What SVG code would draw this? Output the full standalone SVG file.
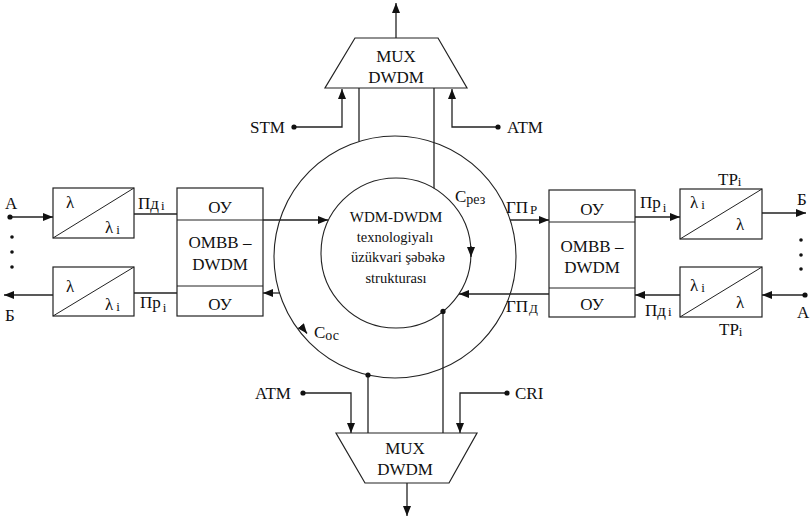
<svg xmlns="http://www.w3.org/2000/svg" width="812" height="518" viewBox="0 0 812 518">
<style>
text{font-family:"Liberation Serif","Times New Roman",serif;fill:#111;}
.t{font-size:17px;}
.c{font-size:17px;text-anchor:middle;}
.m{font-size:14.5px;text-anchor:middle;}
.s{font-size:13px;}
.ln{fill:none;stroke:#222;stroke-width:1.3;}
.cr{fill:none;stroke:#222;stroke-width:1.1;}
.bx{fill:#fff;stroke:#222;stroke-width:1.2;}
.dg{stroke:#222;stroke-width:1;}
.dot{fill:#111;}
</style>
<defs>
<marker id="ar" markerUnits="userSpaceOnUse" markerWidth="10" markerHeight="8" refX="10" refY="4" orient="auto">
<path d="M0,0 L10,4 L0,8 z" fill="#111"/>
</marker>
</defs>

<g id="ring">
<circle cx="395" cy="257" r="121" class="cr"/>
<circle cx="396" cy="253" r="75" class="cr"/>
<text class="m" x="396" y="222" style="font-size:15px">WDM-DWDM</text>
<text class="m" x="395" y="242">texnologiyalı</text>
<text class="m" x="398" y="262">üzükvari şəbəkə</text>
<text class="m" x="396" y="283">strukturası</text>
<text class="t" x="455" y="202">С<tspan style="font-size:14px" dy="2">рез</tspan></text>
<text class="t" x="314" y="338">С<tspan style="font-size:14px" dy="2">ос</tspan></text>
</g>

<g id="mux-top">
<polygon points="355,38 438,38 467,88 325,88" class="bx"/>
<text class="c" x="396" y="62">MUX</text>
<text class="c" x="396" y="83">DWDM</text>
</g>

<g id="mux-bottom">
<polygon points="336,433 477,433 449,483 365,483" class="bx"/>
<text class="c" x="405" y="454">MUX</text>
<text class="c" x="405" y="475">DWDM</text>
</g>

<g id="omvv-left">
<rect x="177" y="188" width="86" height="128" class="bx"/>
<line x1="177" y1="220" x2="263" y2="220" class="dg"/>
<line x1="177" y1="286" x2="263" y2="286" class="dg"/>
<text class="c" x="220" y="213">ОУ</text>
<text class="c" x="220" y="248">OMBB –</text>
<text class="c" x="220" y="270">DWDM</text>
<text class="c" x="220" y="310">ОУ</text>
</g>

<g id="omvv-right">
<rect x="549" y="190" width="86" height="127" class="bx"/>
<line x1="549" y1="222" x2="635" y2="222" class="dg"/>
<line x1="549" y1="288" x2="635" y2="288" class="dg"/>
<text class="c" x="592" y="215">ОУ</text>
<text class="c" x="592" y="252">OMBB –</text>
<text class="c" x="592" y="273">DWDM</text>
<text class="c" x="592" y="310">ОУ</text>
</g>

<g id="tr-left-top">
<rect x="53" y="188" width="81" height="50" class="bx"/>
<line x1="53" y1="238" x2="134" y2="188" class="dg"/>
<text class="t" x="66" y="208">λ</text>
<text class="t" x="105" y="233">λ<tspan class="s" dx="3" dy="1">i</tspan></text>
</g>

<g id="tr-left-bottom">
<rect x="53" y="267" width="81" height="49" class="bx"/>
<line x1="53" y1="316" x2="134" y2="267" class="dg"/>
<text class="t" x="66" y="292">λ</text>
<text class="t" x="105" y="310">λ<tspan class="s" dx="3" dy="1">i</tspan></text>
</g>

<g id="tr-right-top">
<rect x="680" y="189" width="82" height="50" class="bx"/>
<line x1="680" y1="239" x2="762" y2="189" class="dg"/>
<text class="t" x="690" y="208">λ<tspan class="s" dx="3" dy="1">i</tspan></text>
<text class="t" x="736" y="230">λ</text>
<text class="t" x="718" y="185">TP<tspan class="s" dy="1">i</tspan></text>
</g>

<g id="tr-right-bottom">
<rect x="680" y="267" width="82" height="50" class="bx"/>
<line x1="680" y1="317" x2="762" y2="267" class="dg"/>
<text class="t" x="690" y="291">λ<tspan class="s" dx="3" dy="1">i</tspan></text>
<text class="t" x="736" y="308">λ</text>
<text class="t" x="719" y="335">TP<tspan class="s" dy="1">i</tspan></text>
</g>

<g id="connectors">
<path d="M396,38 V3" class="ln" marker-end="url(#ar)"/>
<path d="M294,127 H342 V89" class="ln" marker-end="url(#ar)"/>
<path d="M498,127 H452 V89" class="ln" marker-end="url(#ar)"/>
<path d="M359,88 V141.5" class="ln"/>
<path d="M434,88 V188.3" class="ln"/>
<path d="M303,393 H351 V433" class="ln" marker-end="url(#ar)"/>
<path d="M507,393 H460 V433" class="ln" marker-end="url(#ar)"/>
<path d="M368,375 V433" class="ln"/>
<path d="M443,311.4 V433" class="ln"/>
<path d="M407,483 V516" class="ln" marker-end="url(#ar)"/>
<path d="M10,217 H53" class="ln" marker-end="url(#ar)"/>
<path d="M53,295 H4" class="ln" marker-end="url(#ar)"/>
<path d="M134,214 H177" class="ln"/>
<path d="M134,293 H177" class="ln"/>
<path d="M263,220 H328" class="ln" marker-end="url(#ar)"/>
<path d="M280,293 H263" class="ln" marker-end="url(#ar)"/>
<path d="M510,220 H549" class="ln" marker-end="url(#ar)"/>
<path d="M549,294 H459" class="ln" marker-end="url(#ar)"/>
<path d="M635,217 H680" class="ln" marker-end="url(#ar)"/>
<path d="M762,213 H806" class="ln" marker-end="url(#ar)"/>
<path d="M805,295 H762" class="ln" marker-end="url(#ar)"/>
<path d="M680,295 H635" class="ln" marker-end="url(#ar)"/>
<path d="M471,246 L471,257" class="ln" marker-end="url(#ar)"/>
<path d="M301,326 L307,333.5" class="ln" marker-end="url(#ar)"/>
<circle cx="294" cy="127" r="2.6" class="dot"/>
<circle cx="498" cy="127" r="2.6" class="dot"/>
<circle cx="303" cy="393" r="2.6" class="dot"/>
<circle cx="507" cy="393" r="2.6" class="dot"/>
<circle cx="368" cy="375" r="2.6" class="dot"/>
<circle cx="443" cy="311.4" r="2.6" class="dot"/>
<circle cx="10" cy="217" r="2.6" class="dot"/>
<circle cx="805" cy="295" r="2.6" class="dot"/>
<circle cx="12" cy="237" r="1.8" class="dot"/>
<circle cx="12" cy="252" r="1.8" class="dot"/>
<circle cx="12" cy="267" r="1.8" class="dot"/>
<circle cx="801" cy="240" r="1.8" class="dot"/>
<circle cx="801" cy="255" r="1.8" class="dot"/>
<circle cx="801" cy="269" r="1.8" class="dot"/>
</g>

<g id="labels">
<text class="t" x="250" y="133">STM</text>
<text class="t" x="507" y="133">ATM</text>
<text class="t" x="255" y="399">ATM</text>
<text class="t" x="515" y="399">CRI</text>
<text class="t" x="5" y="209">A</text>
<text class="t" x="5" y="321">Б</text>
<text class="t" x="797" y="205">Б</text>
<text class="t" x="797" y="318">A</text>
<text class="t" x="138" y="209">Пд<tspan class="s" dx="2" dy="1">i</tspan></text>
<text class="t" x="140" y="308">Пр<tspan class="s" dx="2" dy="4">i</tspan></text>
<text class="t" x="640" y="208">Пр<tspan class="s" dx="2" dy="4">i</tspan></text>
<text class="t" x="645" y="316">Пд<tspan class="s" dx="2" dy="0">i</tspan></text>
<text class="t" x="506" y="213">ГП<tspan class="s" dx="2" dy="1">Р</tspan></text>
<text class="t" x="506" y="312">ГП<tspan class="s" dx="1" dy="1">Д</tspan></text>
</g>
</svg>
